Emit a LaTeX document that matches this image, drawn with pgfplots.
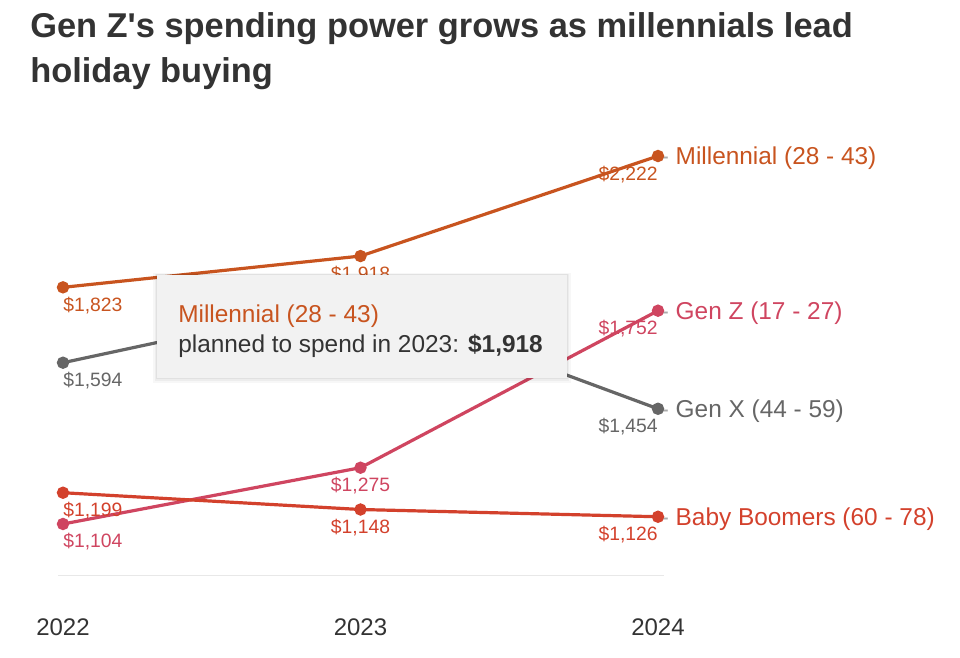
\documentclass[border=0pt]{standalone}
\usepackage{pgfplots}
\pgfplotsset{compat=1.18}
\usepackage{fontspec}
\setmainfont{Liberation Sans}
\definecolor{mill}{HTML}{C8541F}
\definecolor{genz}{HTML}{CF4560}
\definecolor{genx}{HTML}{666666}
\definecolor{boom}{HTML}{D3412C}
\definecolor{titlec}{HTML}{333333}
\definecolor{dashc}{HTML}{AAAAAA}
\definecolor{gridc}{HTML}{E8E8E8}
\definecolor{tipc}{HTML}{F2F2F2}
\tikzset{
  vl/.style={font=\fontsize{14.5pt}{16pt}\selectfont, inner sep=0pt, yshift=-18pt},
  el/.style={font=\fontsize{18.3pt}{20pt}\selectfont, inner sep=0pt, anchor=base west, xshift=2pt, yshift=-6.5pt},
}
\begin{document}
\begin{tikzpicture}
\path (0,0) rectangle (720pt,-492.75pt);
\node[anchor=base west, inner sep=0, font=\fontsize{25.8pt}{30pt}\selectfont\bfseries, text=titlec] at (22.5pt,-27.75pt) {Gen Z\textquotesingle s spending power grows as millennials lead};
\node[anchor=base west, inner sep=0, font=\fontsize{25.8pt}{30pt}\selectfont\bfseries, text=titlec] at (22.5pt,-61.5pt) {holiday buying};
\begin{axis}[
  at={(43.5pt,-431.25pt)}, anchor=south west,
  scale only axis, width=454.5pt, height=314.25pt,
  xmin=2021.9832, xmax=2024.0202, ymin=949, ymax=2222,
  clip=false,
  axis y line=none, axis x line*=bottom,
  x axis line style={draw=gridc, line width=0.75pt, -},
  xtick={2022,2023,2024}, xticklabels={2022,2023,2024},
  major tick length=0pt,
  xticklabel style={anchor=base, yshift=-45.5pt, font=\fontsize{18pt}{20pt}\selectfont, text=titlec, inner sep=0pt},
  every axis plot/.append style={line width=2.4pt, mark=*, mark size=3.4pt},
]
\addplot[genx] coordinates {(2022,1594) (2023,1788) (2024,1454)};
\addplot[genz] coordinates {(2022,1104) (2023,1275) (2024,1752)};
\addplot[boom] coordinates {(2022,1199) (2023,1148) (2024,1126)};
\addplot[mill] coordinates {(2022,1823) (2023,1918) (2024,2222)};
% value labels
\node[vl, text=mill, anchor=base west] at (axis cs:2022,1823) {\$1,823};
\node[vl, text=mill, anchor=base] at (axis cs:2023,1918) {\$1,918};
\node[vl, text=mill, anchor=base east] at (axis cs:2024,2222) {\$2,222};
\node[vl, text=genx, anchor=base west] at (axis cs:2022,1594) {\$1,594};
\node[vl, text=genx, anchor=base east] at (axis cs:2024,1454) {\$1,454};
\node[vl, text=genz, anchor=base west] at (axis cs:2022,1104) {\$1,104};
\node[vl, text=genz, anchor=base] at (axis cs:2023,1275) {\$1,275};
\node[vl, text=genz, anchor=base east] at (axis cs:2024,1752) {\$1,752};
\node[vl, text=boom, anchor=base west] at (axis cs:2022,1199) {\$1,199};
\node[vl, text=boom, anchor=base] at (axis cs:2023,1148) {\$1,148};
\node[vl, text=boom, anchor=base east] at (axis cs:2024,1126) {\$1,126};
% end labels
\node[el, text=mill] at (axis cs:2024,2222) {\textcolor{dashc}{-}\hspace{5pt}Millennial (28 - 43)};
\node[el, text=genz] at (axis cs:2024,1752) {\textcolor{dashc}{-}\hspace{5pt}Gen Z (17 - 27)};
\node[el, text=genx] at (axis cs:2024,1454) {\textcolor{dashc}{-}\hspace{5pt}Gen X (44 - 59)};
\node[el, text=boom] at (axis cs:2024,1126) {\textcolor{dashc}{-}\hspace{5pt}Baby Boomers (60 - 78)};
\end{axis}
% tooltip
\fill[black, opacity=0.03] (114.75pt,-204.75pt) rectangle (428.25pt,-287.25pt);
\fill[black, opacity=0.04] (116.25pt,-205.5pt) rectangle (426.75pt,-285.75pt);
\fill[black, opacity=0.05] (117pt,-205.5pt) rectangle (426pt,-284.5pt);
\fill[tipc] (117.75pt,-206.25pt) rectangle (425.25pt,-283.5pt);
\node[anchor=base west, inner sep=0pt, font=\fontsize{18.3pt}{20pt}\selectfont, text=mill] at (133.5pt,-242pt) {Millennial (28 - 43)};
\node[anchor=base west, inner sep=0pt, font=\fontsize{18.3pt}{20pt}\selectfont, text=titlec] at (133.5pt,-264pt) {planned to spend in 2023: \textbf{\$1,918}};
\end{tikzpicture}
\end{document}
